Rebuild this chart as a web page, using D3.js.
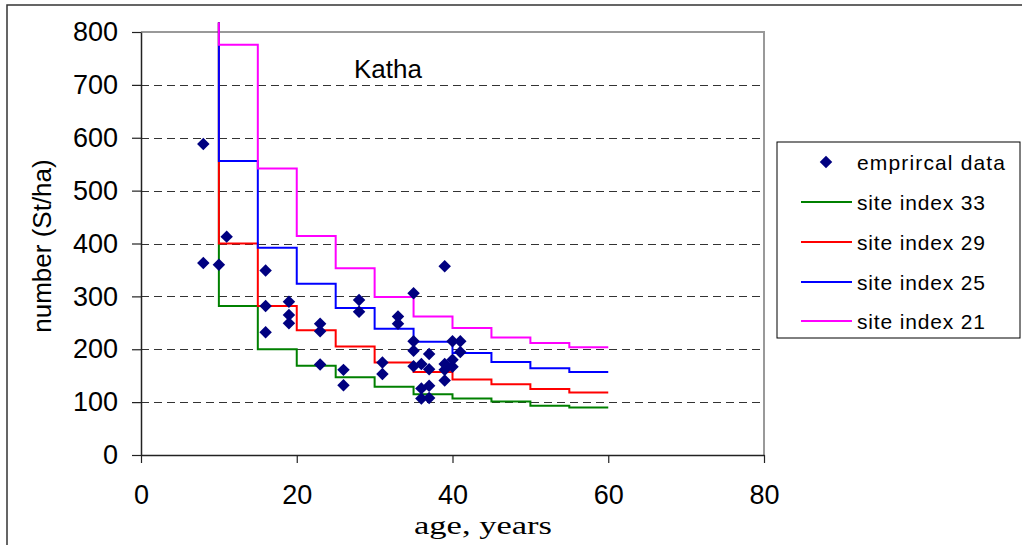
<!DOCTYPE html>
<html>
<head>
<meta charset="utf-8">
<script src="https://cdn.jsdelivr.net/npm/d3@7"></script>
<style>
  html, body { margin: 0; padding: 0; background: #fff; }
  svg { display: block; }
</style>
</head>
<body>
<svg id="chart" width="1022" height="545"></svg>
<script>
// Stand density (stems per ha) against stand age, Katha
const ageTicks = [0, 20, 40, 60, 80];
const densityTicks = [0, 100, 200, 300, 400, 500, 600, 700, 800];

// Empirical plot observations: [age, stems/ha]
const empiricalAge = [8, 8, 10, 11, 16, 16, 16, 19, 19, 19, 23, 23, 23, 26, 26, 28, 28, 31, 31, 33, 33,
  35, 35, 35, 35, 36, 37, 37, 36, 37, 36, 37, 39, 39, 39, 39, 40, 41, 41, 40, 40];
const empiricalDensity = [588, 363, 360, 413, 349, 282, 232, 290, 265, 249, 248, 234, 171, 161, 132, 293, 271, 175, 153, 262, 248,
  306, 215, 197, 168, 172, 191, 162, 126, 131, 107, 108, 357, 172, 161, 141, 215, 215, 195, 180, 167];

// Model step curves: density for each 5-year period from age 10 to 60
const stepAges = [10, 15, 20, 25, 30, 35, 40, 45, 50, 55, 60];
const siteIndex33 = [282, 200, 169, 147, 129, 115, 107, 101, 93, 90];
const siteIndex29 = [400, 282, 236, 205, 175, 157, 143, 134, 125, 118];
const siteIndex25 = [556, 392, 324, 278, 239, 214, 193, 176, 164, 157];
const siteIndex21 = [776, 542, 414, 353, 299, 262, 240, 222, 212, 204];
const initialDensity = 818;

const seriesNames = ["site index 33", "site index 29", "site index 25", "site index 21"];
const seriesValues = [siteIndex33, siteIndex29, siteIndex25, siteIndex21];
const seriesColors = ["#008000", "#ff0000", "#0000ff", "#ff00ff"];

const svg = d3.select("#chart");
const plotLeft = 141, plotRight = 764, plotTop = 32, plotBottom = 455;

const x = d3.scaleLinear().domain([0, 80]).range([plotLeft, plotRight]);
const y = d3.scaleLinear().domain([0, 800]).range([plotBottom, plotTop]);

// outer frame
svg.append("rect")
  .attr("x", 7).attr("y", 5).attr("width", 1030).attr("height", 560)
  .attr("fill", "none").attr("stroke", "#333").attr("stroke-width", 1.5);

// horizontal dashed gridlines
svg.append("g").selectAll("line")
  .data(densityTicks.filter(d => d > 0 && d < 800))
  .join("line")
  .attr("x1", plotLeft).attr("x2", plotRight)
  .attr("y1", d => Math.round(y(d)) + 0.5).attr("y2", d => Math.round(y(d)) + 0.5)
  .attr("stroke", "#333").attr("stroke-width", 1).attr("stroke-dasharray", "8,5");

// plot area top/right border
svg.append("path")
  .attr("d", `M${plotLeft},${y(800)}H${plotRight}V${plotBottom}`)
  .attr("fill", "none").attr("stroke", "#999").attr("stroke-width", 2);

// axes
const yAxis = svg.append("g")
  .attr("transform", `translate(${plotLeft},0)`)
  .call(d3.axisLeft(y).tickValues(densityTicks).tickSizeInner(9).tickSizeOuter(0).tickPadding(14));
const xAxis = svg.append("g")
  .attr("transform", `translate(0,${plotBottom})`)
  .call(d3.axisBottom(x).tickValues(ageTicks).tickSizeInner(8).tickSizeOuter(0).tickPadding(22));

[yAxis, xAxis].forEach(g => {
  g.selectAll("path.domain").attr("stroke", "#222").attr("stroke-width", 1.5);
  g.selectAll(".tick line").attr("stroke", "#222").attr("stroke-width", 1.2);
  g.selectAll("text")
    .attr("font-family", "'Liberation Sans', Arial, sans-serif")
    .attr("font-size", 27).attr("fill", "#000");
});

// step curves
const stepLine = d3.line()
  .x(d => x(d[0])).y(d => y(d[1]))
  .curve(d3.curveStepAfter);

seriesValues.forEach((vals, i) => {
  const pts = [[stepAges[0], initialDensity]];
  vals.forEach((v, k) => pts.push([stepAges[k], v]));
  pts.push([stepAges[stepAges.length - 1], vals[vals.length - 1]]);
  svg.append("path")
    .datum(pts)
    .attr("d", stepLine)
    .attr("fill", "none")
    .attr("stroke", seriesColors[i])
    .attr("stroke-width", 2);
});

// empirical points as diamonds
const diamond = d3.symbol(d3.symbolSquare, 78);
svg.append("g").selectAll("path")
  .data(empiricalAge.map((a, i) => [a, empiricalDensity[i]]))
  .join("path")
  .attr("d", diamond)
  .attr("transform", d => `translate(${x(d[0])},${y(d[1])}) rotate(45)`)
  .attr("fill", "#000080");

// site label
svg.append("text")
  .attr("x", 354).attr("y", 78)
  .attr("font-family", "'Liberation Sans', Arial, sans-serif")
  .attr("font-size", 26)
  .text("Katha");

// axis titles
svg.append("text")
  .attr("transform", "translate(51,246) rotate(-90)")
  .attr("text-anchor", "middle")
  .attr("font-family", "'Liberation Sans', Arial, sans-serif")
  .attr("font-size", 26)
  .text("number (St/ha)");

svg.append("text")
  .attr("x", 483).attr("y", 534)
  .attr("text-anchor", "middle")
  .attr("font-family", "'Liberation Serif', 'Times New Roman', serif")
  .attr("font-size", 26)
  .attr("textLength", 138).attr("lengthAdjust", "spacingAndGlyphs")
  .text("age, years");

// legend
const legend = svg.append("g");
legend.append("rect")
  .attr("x", 777).attr("y", 142).attr("width", 243).attr("height", 196)
  .attr("fill", "#fff").attr("stroke", "#000").attr("stroke-width", 1);

const rowY = [162, 202, 242, 282, 321];
legend.append("path")
  .attr("d", diamond)
  .attr("transform", `translate(826,${rowY[0]}) rotate(45)`)
  .attr("fill", "#000080");
legend.append("text")
  .attr("x", 857).attr("y", rowY[0])
  .attr("dy", "0.36em")
  .attr("font-family", "'Liberation Sans', Arial, sans-serif")
  .attr("font-size", 21)
  .attr("textLength", 148).attr("lengthAdjust", "spacing")
  .text("emprircal data");

seriesNames.forEach((name, i) => {
  const ry = rowY[i + 1];
  legend.append("line")
    .attr("x1", 801).attr("x2", 852).attr("y1", ry).attr("y2", ry)
    .attr("stroke", seriesColors[i]).attr("stroke-width", 2);
  legend.append("text")
    .attr("x", 857).attr("y", ry)
    .attr("dy", "0.36em")
    .attr("font-family", "'Liberation Sans', Arial, sans-serif")
    .attr("font-size", 21)
    .attr("textLength", 128).attr("lengthAdjust", "spacing")
    .text(name);
});
</script>
</body>
</html>
